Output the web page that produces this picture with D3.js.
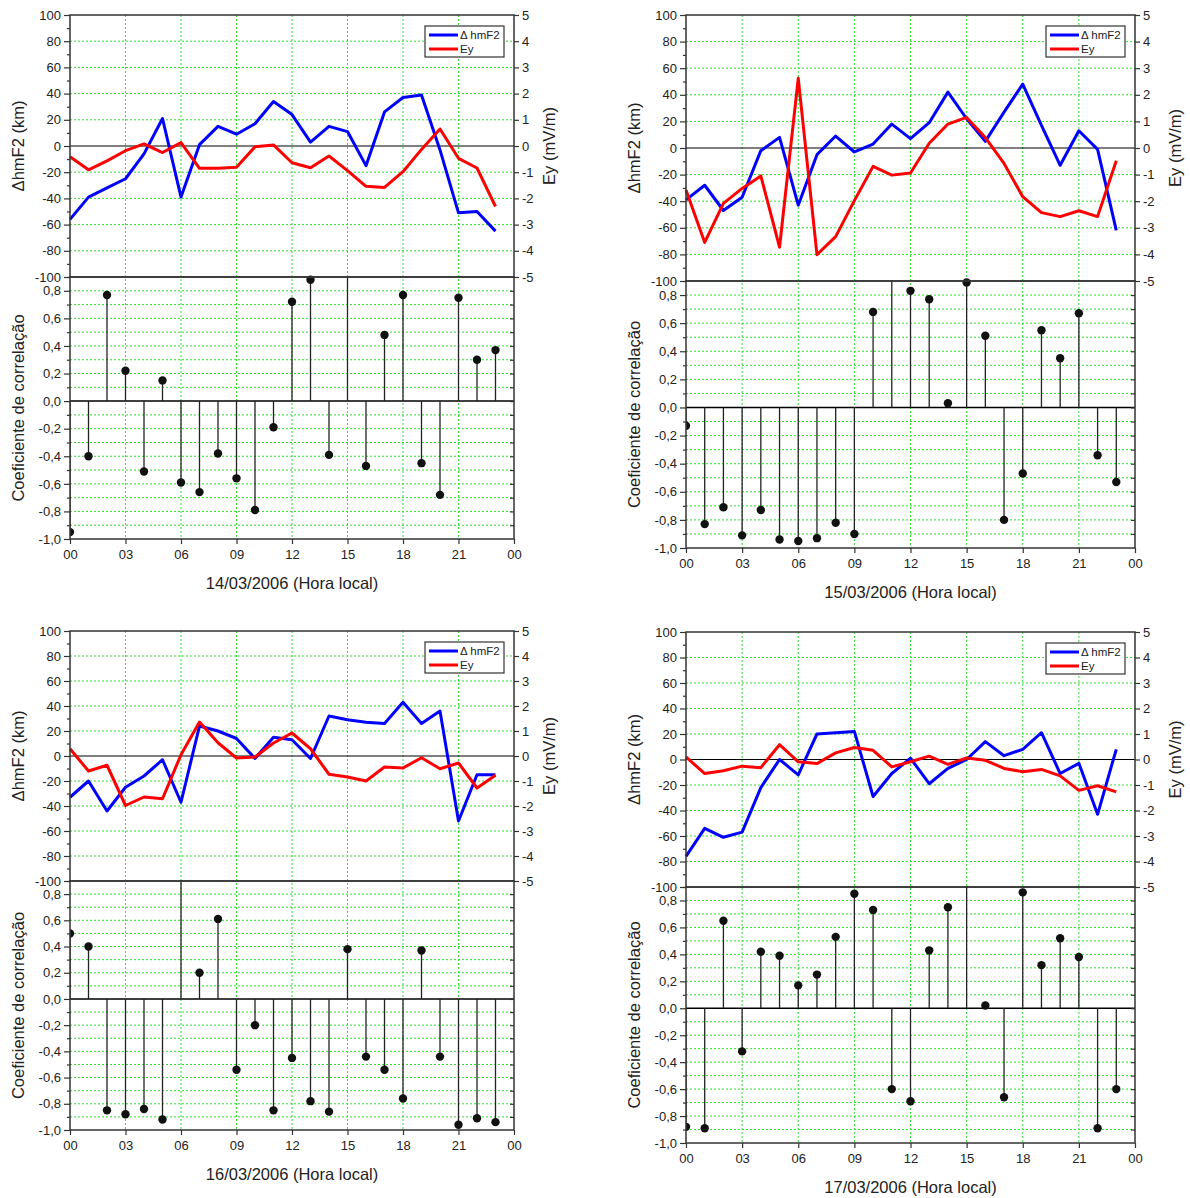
<!DOCTYPE html>
<html>
<head>
<meta charset="utf-8">
<script src="https://cdn.jsdelivr.net/npm/d3@7"></script>
<style>
  body { margin: 0; background: #fff; }
  text { font-family: Arial, "Liberation Sans", sans-serif; fill: #222; }
</style>
</head>
<body>
<svg id="chart" width="1190" height="1198"></svg>
<script>
// hours of the day (local time), one value per hour
var hours = d3.range(0, 24);
var hourTicks = [0, 3, 6, 9, 12, 15, 18, 21, 24];
var hourLabels = ["00", "03", "06", "09", "12", "15", "18", "21", "00"];
var dates = ["14/03/2006", "15/03/2006", "16/03/2006", "17/03/2006"];
var legendNames = ["\u0394 hmF2", "Ey"];

// 14/03/2006
var dhmf2_14 = [-56, -39, -32, -25, -6, 21, -39, 1, 15, 9, 17, 34, 24, 3, 15, 11, -15, 26, 37, 39, -3, -51, -50, -65];
var ey_14 = [-0.41, -0.91, -0.57, -0.18, 0.08, -0.25, 0.13, -0.85, -0.85, -0.81, -0.03, 0.04, -0.64, -0.83, -0.38, -0.94, -1.54, -1.58, -0.98, -0.13, 0.65, -0.47, -0.84, -2.31];
var corr_14 = [-0.95, -0.40, 0.77, 0.22, -0.51, 0.15, -0.59, -0.66, -0.38, -0.56, -0.79, -0.19, 0.72, 0.88, -0.39, 1.0, -0.47, 0.48, 0.77, -0.45, -0.68, 0.75, 0.30, 0.37];

// 15/03/2006
var dhmf2_15 = [-39, -28, -47, -37, -2, 8, -43, -5, 9, -3, 3, 18, 7, 19, 42, 22, 5, 27, 48, 17, -13, 13, -1, -62];
var ey_15 = [-1.58, -3.55, -2.08, -1.52, -1.05, -3.73, 2.62, -4.01, -3.33, -1.98, -0.69, -1.02, -0.94, 0.18, 0.9, 1.15, 0.39, -0.58, -1.83, -2.43, -2.58, -2.36, -2.58, -0.48];
var corr_15 = [-0.13, -0.83, -0.71, -0.91, -0.73, -0.94, -0.95, -0.93, -0.82, -0.90, 0.68, 1.0, 0.83, 0.77, 0.03, 0.89, 0.51, -0.80, -0.47, 0.55, 0.35, 0.67, -0.34, -0.53];

// 16/03/2006
var dhmf2_16 = [-33, -20, -44, -25, -16, -3, -37, 24, 20, 14, -2, 15, 13, -2, 32, 29, 27, 26, 43, 26, 36, -52, -15, -15];
var ey_16 = [0.29, -0.6, -0.37, -1.98, -1.64, -1.71, 0.05, 1.36, 0.53, -0.08, -0.04, 0.52, 0.92, 0.29, -0.73, -0.84, -1.0, -0.44, -0.48, -0.07, -0.51, -0.28, -1.28, -0.77];
var corr_16 = [0.50, 0.40, -0.85, -0.88, -0.84, -0.92, 1.0, 0.20, 0.61, -0.54, -0.20, -0.85, -0.45, -0.78, -0.86, 0.38, -0.44, -0.54, -0.76, 0.37, -0.44, -0.96, -0.91, -0.94];

// 17/03/2006
var dhmf2_17 = [-76, -54, -61, -57, -22, 0, -12, 20, 21, 22, -29, -11, 1, -19, -7, 0, 14, 3, 8, 21, -11, -3, -43, 8];
var ey_17 = [0.1, -0.55, -0.44, -0.26, -0.32, 0.58, -0.09, -0.16, 0.26, 0.47, 0.36, -0.29, -0.09, 0.13, -0.19, 0.06, -0.03, -0.35, -0.48, -0.39, -0.64, -1.21, -1.03, -1.27];
var corr_17 = [-0.88, -0.89, 0.65, -0.32, 0.42, 0.39, 0.17, 0.25, 0.53, 0.85, 0.73, -0.60, -0.69, 0.43, 0.75, 1.0, 0.02, -0.66, 0.86, 0.32, 0.52, 0.38, -0.89, -0.60];

var panels = [
  { date: dates[0], h: dhmf2_14, ey: ey_14, corr: corr_14, x0: 70, x1: 514, yTop: 15, yMid: 277, yBot: 539, rOff: 35 },
  { date: dates[1], h: dhmf2_15, ey: ey_15, corr: corr_15, x0: 686, x1: 1135, yTop: 15, yMid: 281, yBot: 548, rOff: 40 },
  { date: dates[2], h: dhmf2_16, ey: ey_16, corr: corr_16, x0: 70, x1: 514, yTop: 631, yMid: 881, yBot: 1130, rOff: 35 },
  { date: dates[3], h: dhmf2_17, ey: ey_17, corr: corr_17, x0: 686, x1: 1135, yTop: 632, yMid: 887, yBot: 1143, rOff: 40 }
];

var svg = d3.select("#chart");
var GRID = "#33dd33";
var fmtComma = function(v) { return d3.format(".1f")(v).replace(".", ",").replace("\u2212", "-"); };

function styleAxis(g, size) {
  g.select(".domain").remove();
  g.selectAll(".tick line").attr("stroke", "#333").attr("stroke-width", 1.2);
  g.selectAll(".tick text").attr("font-size", size || 13).attr("fill", "#222");
}

panels.forEach(function(p, k) {
  var g = svg.append("g");
  var x = d3.scaleLinear().domain([0, 24]).range([p.x0, p.x1]);
  var yH = d3.scaleLinear().domain([-100, 100]).range([p.yMid, p.yTop]);
  var yE = d3.scaleLinear().domain([-5, 5]).range([p.yMid, p.yTop]);
  var yC = d3.scaleLinear().domain([-1, 0.9]).range([p.yBot, p.yMid]);

  // grid
  g.selectAll(".vg").data(d3.range(3, 24, 3)).enter().append("line")
    .attr("x1", x).attr("x2", x).attr("y1", p.yTop).attr("y2", p.yBot)
    .attr("stroke", GRID).attr("stroke-width", 1).attr("stroke-dasharray", "2,2");
  g.selectAll(".hg").data(d3.range(-80, 81, 20).filter(function(v) { return v !== 0; })).enter().append("line")
    .attr("x1", p.x0).attr("x2", p.x1).attr("y1", yH).attr("y2", yH)
    .attr("stroke", GRID).attr("stroke-width", 1).attr("stroke-dasharray", "2,2");
  g.selectAll(".cg").data(d3.range(-9, 9).filter(function(v) { return v !== 0; }).map(function(v) { return v / 10; })).enter().append("line")
    .attr("x1", p.x0).attr("x2", p.x1).attr("y1", yC).attr("y2", yC)
    .attr("stroke", GRID).attr("stroke-width", 1).attr("stroke-dasharray", "2,2");

  // zero lines
  g.append("line").attr("x1", p.x0).attr("x2", p.x1).attr("y1", yH(0)).attr("y2", yH(0))
    .attr("stroke", "#000").attr("stroke-width", 1.2);
  g.append("line").attr("x1", p.x0).attr("x2", p.x1).attr("y1", yC(0)).attr("y2", yC(0))
    .attr("stroke", "#000").attr("stroke-width", 1.5);

  // clips for the correlation panel
  var cs = "clipS" + k, cd = "clipD" + k;
  var defs = svg.append("defs");
  defs.append("clipPath").attr("id", cs).append("rect")
    .attr("x", p.x0).attr("y", p.yMid).attr("width", p.x1 - p.x0).attr("height", p.yBot - p.yMid);
  defs.append("clipPath").attr("id", cd).append("rect")
    .attr("x", p.x0).attr("y", p.yMid - 5).attr("width", p.x1 - p.x0).attr("height", p.yBot - p.yMid + 5);

  // stems and dots
  g.append("g").attr("clip-path", "url(#" + cs + ")")
    .selectAll("line").data(p.corr).enter().append("line")
    .attr("x1", function(d, i) { return x(hours[i]); })
    .attr("x2", function(d, i) { return x(hours[i]); })
    .attr("y1", yC(0)).attr("y2", function(d) { return yC(d); })
    .attr("stroke", "#222").attr("stroke-width", 1.3);
  g.append("g").attr("clip-path", "url(#" + cd + ")")
    .selectAll("circle").data(p.corr).enter().append("circle")
    .attr("cx", function(d, i) { return x(hours[i]); })
    .attr("cy", function(d) { return yC(d); })
    .attr("r", 4.2).attr("fill", "#111");

  // series lines
  var lineH = d3.line().x(function(d, i) { return x(hours[i]); }).y(function(d) { return yH(d); });
  var lineE = d3.line().x(function(d, i) { return x(hours[i]); }).y(function(d) { return yE(d); });
  g.append("path").datum(p.h).attr("d", lineH).attr("fill", "none")
    .attr("stroke", "#0000ff").attr("stroke-width", 3).attr("stroke-linejoin", "round");
  g.append("path").datum(p.ey).attr("d", lineE).attr("fill", "none")
    .attr("stroke", "#ff0000").attr("stroke-width", 3).attr("stroke-linejoin", "round");

  // frames
  g.append("rect").attr("x", p.x0).attr("y", p.yTop).attr("width", p.x1 - p.x0).attr("height", p.yMid - p.yTop)
    .attr("fill", "none").attr("stroke", "#333").attr("stroke-width", 1.5);
  g.append("rect").attr("x", p.x0).attr("y", p.yMid).attr("width", p.x1 - p.x0).attr("height", p.yBot - p.yMid)
    .attr("fill", "none").attr("stroke", "#333").attr("stroke-width", 1.5);

  // axes top panel
  g.append("g").attr("transform", "translate(" + p.x0 + ",0)")
    .call(d3.axisLeft(yH).tickValues(d3.range(-100, 101, 20)).tickSize(6).tickPadding(3)
      .tickFormat(function(d) { return String(d); }))
    .call(styleAxis);
  g.append("g").attr("transform", "translate(" + p.x0 + ",0)")
    .call(d3.axisLeft(yH).tickValues(d3.range(-90, 100, 20)).tickSize(3).tickFormat(""))
    .call(styleAxis);
  g.append("g").attr("transform", "translate(" + p.x1 + ",0)")
    .call(d3.axisRight(yE).tickValues(d3.range(-5, 6)).tickSize(5).tickPadding(3)
      .tickFormat(function(d) { return String(d); }))
    .call(styleAxis);

  // axes correlation panel
  g.append("g").attr("transform", "translate(" + p.x0 + ",0)")
    .call(d3.axisLeft(yC).tickValues(d3.range(-10, 9, 2).map(function(v) { return v / 10; }))
      .tickSize(6).tickPadding(3).tickFormat(fmtComma))
    .call(styleAxis);
  g.append("g").attr("transform", "translate(" + p.x0 + ",0)")
    .call(d3.axisLeft(yC).tickValues(d3.range(-9, 10, 2).map(function(v) { return v / 10; })).tickSize(3).tickFormat(""))
    .call(styleAxis);
  g.append("g").attr("transform", "translate(" + p.x1 + ",0)")
    .call(d3.axisLeft(yC).tickValues(d3.range(-9, 9).map(function(v) { return v / 10; })).tickSize(4).tickFormat(""))
    .call(styleAxis);
  g.append("g").attr("transform", "translate(0," + p.yBot + ")")
    .call(d3.axisBottom(x).tickValues(hourTicks).tickSize(5).tickPadding(6)
      .tickFormat(function(d, i) { return hourLabels[i]; }))
    .call(styleAxis);

  // titles
  g.append("text").attr("x", (p.x0 + p.x1) / 2).attr("y", p.yBot + 50)
    .attr("text-anchor", "middle").attr("font-size", 16.5).attr("fill", "#333")
    .text(p.date + " (Hora local)");
  var cyTop = (p.yTop + p.yMid) / 2, cyBot = (p.yMid + p.yBot) / 2;
  g.append("text").attr("transform", "translate(" + (p.x0 - 52) + "," + cyTop + ") rotate(-90)")
    .attr("text-anchor", "middle").attr("dominant-baseline", "central")
    .attr("font-size", 16.5).attr("fill", "#333").text("\u0394hmF2 (km)");
  g.append("text").attr("transform", "translate(" + (p.x0 - 52) + "," + cyBot + ") rotate(-90)")
    .attr("text-anchor", "middle").attr("dominant-baseline", "central")
    .attr("font-size", 16.5).attr("fill", "#333").text("Coeficiente de correla\u00e7\u00e3o");
  g.append("text").attr("transform", "translate(" + (p.x1 + p.rOff) + "," + cyTop + ") rotate(-90)")
    .attr("text-anchor", "middle").attr("dominant-baseline", "central")
    .attr("font-size", 16.5).attr("fill", "#333").text("Ey (mV/m)");

  // legend
  var lx = p.x1 - 89, ly = p.yTop + 11;
  var lg = g.append("g");
  lg.append("rect").attr("x", lx).attr("y", ly).attr("width", 79).attr("height", 31)
    .attr("fill", "#fff").attr("stroke", "#333").attr("stroke-width", 1.2);
  [["#0000ff", legendNames[0]], ["#ff0000", legendNames[1]]].forEach(function(e, j) {
    var yy = ly + 9 + j * 14;
    lg.append("line").attr("x1", lx + 4).attr("x2", lx + 33).attr("y1", yy).attr("y2", yy)
      .attr("stroke", e[0]).attr("stroke-width", 3);
    lg.append("text").attr("x", lx + 35).attr("y", yy).attr("dominant-baseline", "central")
      .attr("font-size", 11.5).text(e[1]);
  });
});
</script>
</body>
</html>
